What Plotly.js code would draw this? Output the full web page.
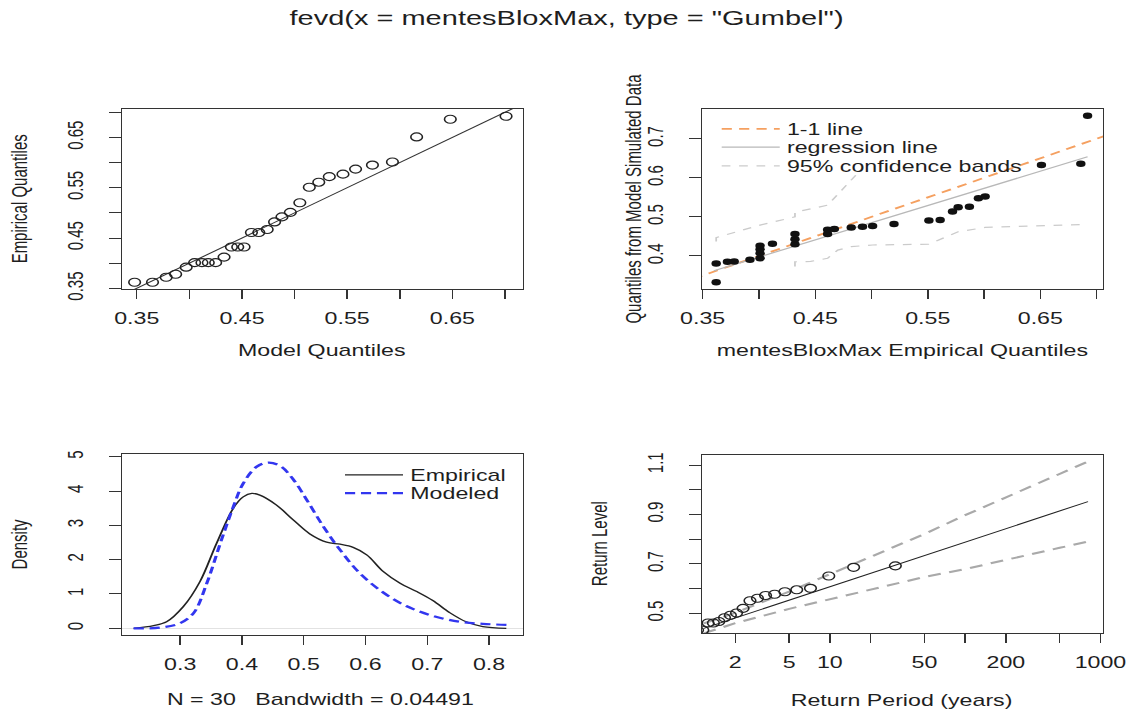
<!DOCTYPE html>
<html>
<head>
<meta charset="utf-8">
<script src="https://cdn.plot.ly/plotly-3.0.1.min.js"></script>
<style>
  html, body { margin: 0; padding: 0; background: #fff; overflow: hidden; }
  #wrap { width: 1133px; height: 712px; overflow: hidden; }
  /* the plot is laid out narrow and stretched sideways, like a widened R device */
  #chart { width: 781px; height: 712px; transform: scaleX(1.45071); transform-origin: 0 0; }
</style>
</head>
<body>
<div id="wrap"><div id="chart"></div></div>
<script>
// ---- Panel 1: Gumbel QQ plot (model vs empirical quantiles) ----
const modelQuantiles = [0.348, 0.365, 0.378, 0.387, 0.397, 0.405, 0.412, 0.418, 0.425, 0.433,
                        0.440, 0.446, 0.452, 0.459, 0.466, 0.474, 0.481, 0.488, 0.496, 0.505,
                        0.514, 0.523, 0.533, 0.546, 0.558, 0.574, 0.593, 0.616, 0.648, 0.701];
const empiricalQuantiles = [0.362, 0.362, 0.372, 0.378, 0.392, 0.401, 0.401, 0.401, 0.401, 0.412,
                            0.432, 0.432, 0.432, 0.461, 0.461, 0.467, 0.482, 0.492, 0.501, 0.520,
                            0.551, 0.561, 0.572, 0.577, 0.587, 0.595, 0.601, 0.651, 0.686, 0.692];
const identityLine = [0.30, 0.80];

// ---- Panel 2: empirical quantiles vs quantiles from model-simulated data ----
const simQuantiles = [0.333, 0.381, 0.385, 0.386, 0.390, 0.394, 0.407, 0.417, 0.426, 0.431,
                      0.430, 0.443, 0.456, 0.456, 0.467, 0.469, 0.473, 0.475, 0.477, 0.482,
                      0.491, 0.492, 0.514, 0.525, 0.526, 0.548, 0.552, 0.633, 0.636, 0.759];
const regressionX = [0.360, 0.692];
const regressionY = [0.362, 0.654];
const bandUpperX = [0.362, 0.362, 0.401, 0.432, 0.432, 0.461, 0.492];
const bandUpperY = [0.437, 0.447, 0.479, 0.500, 0.512, 0.530, 0.625];
const bandLowerX = [0.432, 0.432, 0.446, 0.461, 0.470, 0.482, 0.501, 0.551, 0.577, 0.601, 0.692];
const bandLowerY = [0.373, 0.385, 0.386, 0.394, 0.415, 0.424, 0.428, 0.430, 0.462, 0.473, 0.481];

// ---- Panel 3: kernel density of the data vs fitted Gumbel density ----
const empDensX = [0.2246, 0.257, 0.278, 0.305, 0.332, 0.359, 0.386, 0.402, 0.416, 0.429, 0.456,
                  0.483, 0.510, 0.537, 0.559, 0.580, 0.602, 0.629, 0.656, 0.683, 0.709, 0.736,
                  0.763, 0.790, 0.828];
const empDensY = [0.00, 0.08, 0.19, 0.63, 1.36, 2.48, 3.50, 3.83, 3.93, 3.88, 3.59,
                  3.16, 2.75, 2.51, 2.45, 2.36, 2.14, 1.65, 1.31, 1.07, 0.81, 0.46,
                  0.19, 0.05, 0.00];
const modDensX = [0.2246, 0.268, 0.300, 0.3215, 0.343, 0.365, 0.386, 0.402, 0.424, 0.443, 0.462,
                  0.483, 0.505, 0.532, 0.559, 0.591, 0.629, 0.666, 0.709, 0.753, 0.790, 0.831];
const modDensY = [0.00, 0.02, 0.15, 0.44, 1.31, 2.48, 3.54, 4.22, 4.71, 4.83, 4.73,
                  4.34, 3.74, 2.96, 2.28, 1.60, 1.04, 0.65, 0.36, 0.19, 0.13, 0.10];
const densityNote = 'N = 30\u00a0\u00a0\u00a0Bandwidth = 0.04491';

// ---- Panel 4: return level plot ----
const rpEmpirical = [1.053, 1.151, 1.258, 1.378, 1.511, 1.664, 1.840, 2.043, 2.283, 2.568,
                     2.916, 3.349, 3.907, 4.651, 5.690, 7.190, 9.820, 14.99, 30.50];
const rlEmpirical = empiricalQuantiles.slice(11);
const rpCurve = [1.17, 2, 5, 10, 20, 50, 100, 200, 500, 809];
const rlCurve = [0.439, 0.481, 0.553, 0.607, 0.662, 0.734, 0.788, 0.843, 0.915, 0.952];
const rlUpper = [0.459, 0.502, 0.588, 0.658, 0.730, 0.821, 0.897, 0.969, 1.065, 1.114];
const rlLower = [0.419, 0.460, 0.518, 0.556, 0.594, 0.647, 0.679, 0.717, 0.765, 0.790];

// ---- tick values and labels ----
const qTicks = [0.35, 0.40, 0.45, 0.50, 0.55, 0.60, 0.65, 0.70];
const qTickText = ['0.35', '', '0.45', '', '0.55', '', '0.65', ''];
const simTicks = [0.4, 0.5, 0.6, 0.7];
const simTickText = ['0.4', '0.5', '0.6', '0.7'];
const densXTicks = [0.3, 0.4, 0.5, 0.6, 0.7, 0.8];
const densXTickText = ['0.3', '0.4', '0.5', '0.6', '0.7', '0.8'];
const densYTicks = [0, 1, 2, 3, 4, 5];
const densYTickText = ['0', '1', '2', '3', '4', '5'];
const rpTicks = [2, 5, 10, 20, 50, 100, 200, 500, 1000];
const rpTickText = ['2', '5', '10', '', '50', '', '200', '', '1000'];
const rlTicks = [0.5, 0.6, 0.7, 0.8, 0.9, 1.0, 1.1];
const rlTickText = ['0.5', '', '0.7', '', '0.9', '', '1.1'];

// ---- geometry (final page pixels -> paper fractions) ----
const W = 1133, H = 712, PRE_W = 781;
const fx = X => X / W;
const fy = Y => 1 - Y / H;
const preGap = px => px / PRE_W;

const FONT = 'Liberation Sans, Arial, Helvetica, sans-serif';
const INK = '#1e1e1e';

function xAxis(anchor, domain, range, vals, text, extra) {
  return Object.assign({
    anchor: anchor, domain: domain, range: range, tickmode: 'array', tickvals: vals, ticktext: text,
    showline: true, mirror: true, linecolor: '#333', linewidth: 1,
    ticks: 'outside', ticklen: 9, tickwidth: 1, tickcolor: '#333',
    ticklabelstandoff: 6,
    tickfont: {family: FONT, size: 16, color: INK},
    showgrid: false, zeroline: false, automargin: false, fixedrange: true
  }, extra || {});
}
function yAxis(anchor, domain, range, vals, text, extra) {
  return Object.assign({
    anchor: anchor, domain: domain, range: range, tickmode: 'array', tickvals: vals, ticktext: text,
    showline: true, mirror: true, linecolor: '#333', linewidth: 1,
    ticks: 'outside', ticklen: 8, tickwidth: 1, tickcolor: '#333',
    tickangle: -90, ticklabelstandoff: 12,
    tickfont: {family: FONT, size: 15, color: INK},
    showgrid: false, zeroline: false, automargin: false, fixedrange: true
  }, extra || {});
}

const openCircle = {symbol: 'circle-open', size: 8, color: '#222', line: {width: 1.1, color: '#222'}};

const traces = [
  // panel 1
  {x: identityLine, y: identityLine, xaxis: 'x', yaxis: 'y', mode: 'lines',
   line: {color: '#333', width: 1}, showlegend: false, hoverinfo: 'skip'},
  {x: modelQuantiles, y: empiricalQuantiles, xaxis: 'x', yaxis: 'y', mode: 'markers',
   marker: openCircle, showlegend: false},

  // panel 2
  {x: identityLine, y: identityLine, xaxis: 'x2', yaxis: 'y2', mode: 'lines', name: '1-1 line',
   line: {color: '#f5a060', width: 1.8, dash: '7px,5px'}, showlegend: true, legend: 'legend'},
  {x: regressionX, y: regressionY, xaxis: 'x2', yaxis: 'y2', mode: 'lines', name: 'regression line',
   line: {color: '#b8b8b8', width: 1.2}, showlegend: true, legend: 'legend2'},
  {x: bandUpperX, y: bandUpperY, xaxis: 'x2', yaxis: 'y2', mode: 'lines', name: '95% confidence bands',
   line: {color: '#cbcbcb', width: 1.2, dash: '6px,6px'}, showlegend: true, legend: 'legend3'},
  {x: bandLowerX, y: bandLowerY, xaxis: 'x2', yaxis: 'y2', mode: 'lines',
   line: {color: '#cbcbcb', width: 1.2, dash: '6px,6px'}, showlegend: false},
  {x: empiricalQuantiles, y: simQuantiles, xaxis: 'x2', yaxis: 'y2', mode: 'markers',
   marker: {symbol: 'circle', size: 6.5, color: '#111'}, showlegend: false},

  // panel 3
  {x: empDensX, y: empDensY, xaxis: 'x3', yaxis: 'y3', mode: 'lines', name: 'Empirical',
   line: {color: '#222', width: 1.3, shape: 'spline', smoothing: 1}, showlegend: true, legend: 'legend4'},
  {x: modDensX, y: modDensY, xaxis: 'x3', yaxis: 'y3', mode: 'lines', name: 'Modeled',
   line: {color: '#3236ef', width: 2.2, dash: '7px,4px', shape: 'spline', smoothing: 1},
   showlegend: true, legend: 'legend5'},

  // panel 4
  {x: rpCurve, y: rlUpper, xaxis: 'x4', yaxis: 'y4', mode: 'lines',
   line: {color: '#a9a9a9', width: 2, dash: '9px,6px'}, showlegend: false},
  {x: rpCurve, y: rlLower, xaxis: 'x4', yaxis: 'y4', mode: 'lines',
   line: {color: '#a9a9a9', width: 2, dash: '9px,6px'}, showlegend: false},
  {x: rpCurve, y: rlCurve, xaxis: 'x4', yaxis: 'y4', mode: 'lines',
   line: {color: '#222', width: 1}, showlegend: false},
  {x: rpEmpirical, y: rlEmpirical, xaxis: 'x4', yaxis: 'y4', mode: 'markers',
   marker: openCircle, showlegend: false}
];

function legendAt(lineStartX, rowY) {
  return {x: fx(lineStartX) - preGap(5), y: fy(rowY), xanchor: 'left', yanchor: 'middle',
          bgcolor: 'rgba(0,0,0,0)', borderwidth: 0, itemwidth: 40,
          font: {family: FONT, size: 16, color: INK}};
}

function label(text, X, Y, size, angle) {
  return {text: text, x: fx(X), y: fy(Y), xref: 'paper', yref: 'paper',
          xanchor: 'center', yanchor: 'middle', showarrow: false, textangle: angle || 0,
          font: {family: FONT, size: size, color: INK}};
}

const layout = {
  width: PRE_W, height: H,
  margin: {l: 0, r: 0, t: 0, b: 0},
  paper_bgcolor: '#fff', plot_bgcolor: '#fff',
  title: {text: 'fevd(x = mentesBloxMax, type = "Gumbel")', x: 0.5, xanchor: 'center',
          y: fy(18), yanchor: 'middle', font: {family: FONT, size: 20, color: INK}},
  xaxis:  xAxis('y',  [fx(122), fx(523)], [0.336, 0.7171], qTicks, qTickText),
  yaxis:  yAxis('x',  [fy(289), fy(109)], [0.3486, 0.7065], qTicks, qTickText),
  xaxis2: xAxis('y2', [fx(702), fx(1103)], [0.3494, 0.7057], qTicks, qTickText),
  yaxis2: yAxis('x2', [fy(289), fy(109)], [0.3154, 0.7762], simTicks, simTickText),
  xaxis3: xAxis('y3', [fx(122), fx(523)], [0.2058, 0.855], densXTicks, densXTickText),
  yaxis3: yAxis('x3', [fy(635), fy(454)], [-0.195, 5.079], densYTicks, densYTickText,
                {zeroline: true, zerolinecolor: '#e2e2e2', zerolinewidth: 1}),
  xaxis4: xAxis('y4', [fx(702), fx(1103)], [0.055, 3.019], rpTicks, rpTickText, {type: 'log'}),
  yaxis4: yAxis('x4', [fy(633), fy(455)], [0.4203, 1.1405], rlTicks, rlTickText),
  legend:  legendAt(721.7, 129),
  legend2: legendAt(721.7, 147.3),
  legend3: legendAt(721.7, 166),
  legend4: legendAt(345, 475),
  legend5: legendAt(345, 493.3),
  annotations: [
    label('Model Quantiles', 322, 351, 16),
    label('mentesBloxMax Empirical Quantiles', 902, 351, 16),
    label(densityNote, 320, 699, 16),
    label('Return Period (years)', 902, 700, 16),
    label('Empirical Quantiles', 18, 199, 15, -90),
    label('Quantiles from Model Simulated Data', 632, 199, 15, -90),
    label('Density', 18, 544, 15, -90),
    label('Return Level', 598, 544, 15, -90)
  ],
  showlegend: true
};

Plotly.newPlot('chart', traces, layout, {staticPlot: true, displayModeBar: false});
</script>
</body>
</html>
